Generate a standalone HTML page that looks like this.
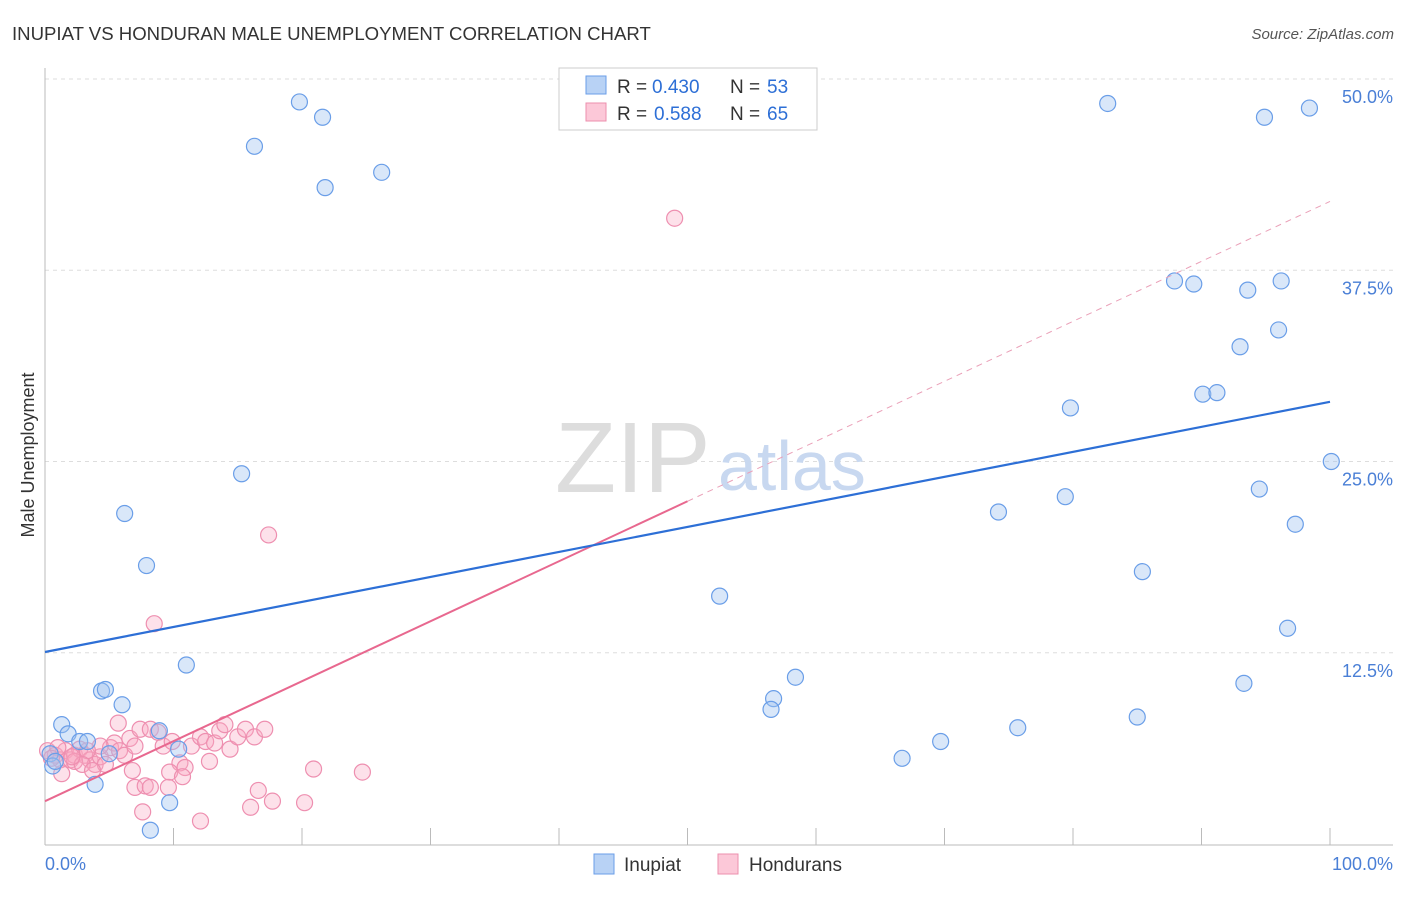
<!DOCTYPE html>
<html><head><meta charset="utf-8"><style>
body{margin:0;background:#fff;font-family:"Liberation Sans",sans-serif;}
svg text{font-family:"Liberation Sans",sans-serif;}
</style></head><body>
<svg width="1406" height="892">
<text x="12" y="40" font-size="18.6" fill="#333">INUPIAT VS HONDURAN MALE UNEMPLOYMENT CORRELATION CHART</text>
<text x="1394" y="39" font-size="15" fill="#555" text-anchor="end" font-style="italic">Source: ZipAtlas.com</text>
<g id="grid"></g>
<text x="555" y="492" font-size="100" fill="#ddd" font-family="Liberation Serif">ZIP</text>
<text x="718" y="490" font-size="70" fill="#c8d8f0">atlas</text>
<text x="34" y="455" font-size="18" fill="#333" transform="rotate(-90 34 455)" text-anchor="middle">Male Unemployment</text>
<g id="marks"></g>
<g>
<rect x="559" y="68" width="258" height="62" fill="#fff" stroke="#ccc"/>
<rect x="586" y="76" width="20" height="18" fill="#b8d2f5" stroke="#6a9ee8"/>
<rect x="586" y="103" width="20" height="18" fill="#fcc8d8" stroke="#ec8fae"/>
<text x="617" y="93" font-size="19" fill="#333">R =</text>
<text x="652" y="93" font-size="19" fill="#2d6fd6">0.430</text>
<text x="730" y="93" font-size="19" fill="#333">N =</text>
<text x="767" y="93" font-size="19" fill="#2d6fd6">53</text>
<text x="617" y="120" font-size="19" fill="#333">R =</text>
<text x="654" y="120" font-size="19" fill="#2d6fd6">0.588</text>
<text x="730" y="120" font-size="19" fill="#333">N =</text>
<text x="767" y="120" font-size="19" fill="#2d6fd6">65</text>
</g>
<g>
<rect x="594" y="854" width="20" height="20" fill="#b8d2f5" stroke="#6a9ee8"/>
<text x="624" y="871" font-size="19" fill="#333">Inupiat</text>
<rect x="718" y="854" width="20" height="20" fill="#fcc8d8" stroke="#ec8fae"/>
<text x="749" y="871" font-size="19" fill="#333">Hondurans</text>
</g>
<text x="45" y="870" font-size="18" fill="#4a7fd6">0.0%</text>
<text x="1393" y="870" font-size="18" fill="#4a7fd6" text-anchor="end">100.0%</text>
</svg>
<script>
const yTicks=[12.5,25,37.5,50];
const yTickLabels=["12.5%","25.0%","37.5%","50.0%"];
const xTicks=[0,10,20,30,40,50,60,70,80,90,100];
const inupiatX=[19.8,21.6,16.3,21.8,26.2,15.3,6.2,7.9,11,4.4,4.7,6,1.3,1.8,2.7,3.3,8.9,5,10.4,0.4,0.6,3.9,9.7,8.2,82.7,94.9,98.4,87.9,89.4,93.6,96.2,96,93,90.1,91.2,79.8,100.1,94.5,79.4,74.2,97.3,85.4,52.5,96.7,58.4,93.3,56.7,56.5,85,75.7,69.7,66.7,0.8];
const inupiatY=[48.5,47.5,45.6,42.9,43.9,24.2,21.6,18.2,11.7,10,10.1,9.1,7.8,7.2,6.7,6.7,7.4,5.9,6.2,5.9,5.1,3.9,2.7,0.9,48.4,47.5,48.1,36.8,36.6,36.2,36.8,33.6,32.5,29.4,29.5,28.5,25,23.2,22.7,21.7,20.9,17.8,16.2,14.1,10.9,10.5,9.5,8.8,8.3,7.6,6.7,5.6,5.4];
const hondX=[49,17.4,8.5,0.2,0.8,1.2,1.6,2,2.3,2.7,3.1,3.5,3.9,4.3,4.7,5.1,5.4,5.8,6.2,5.7,6.6,7,7.4,8.2,8.8,9.2,9.9,10.5,10.9,11.4,12.1,12.5,12.8,13.2,13.6,14,14.4,15,15.6,16.3,17.1,6.8,7,7.8,8.2,9.7,9.6,10.7,7.6,12.1,16,16.6,17.7,20.2,20.9,24.7,4.3,3.3,1,0.5,2.3,2.9,3.7,2.1,1.3];
const hondY=[40.9,20.2,14.4,6.1,5.8,5.5,6.1,5.5,5.8,6.2,5.8,5.5,5.2,5.7,5.2,6.3,6.6,6.1,5.8,7.9,6.9,6.4,7.5,7.5,7.3,6.4,6.7,5.3,5,6.4,7,6.7,5.4,6.6,7.4,7.8,6.2,7,7.5,7,7.5,4.8,3.7,3.8,3.7,4.7,3.7,4.4,2.1,1.5,2.4,3.5,2.8,2.7,4.9,4.7,6.4,6.1,6.3,5.6,5.4,5.2,4.8,5.7,4.6];
const blueFit=[12.55,28.9];
const pinkFit=[2.8,42];
const NS='http://www.w3.org/2000/svg';
const X=v=>45+v*12.85, Y=v=>844-v*15.3;
const grid=document.getElementById('grid'), marks=document.getElementById('marks');
function mk(p,tag,at){const e=document.createElementNS(NS,tag);for(const k in at)e.setAttribute(k,at[k]);p.appendChild(e);return e;}
yTicks.forEach((t,i)=>{
 const l=mk(grid,'line',{x1:45,x2:1393,y1:Y(t),y2:Y(t),stroke:'#ddd','stroke-dasharray':'4,4'});
 
 
 const tx=mk(grid,'text',{x:1393,y:Y(t)+24,'font-size':18,fill:'#4a7fd6','text-anchor':'end'});
 tx.textContent=yTickLabels[i];
 
 
});
const ax=mk(grid,'line',{x1:45,x2:1393,y1:845,y2:845,stroke:'#bbb'});


const ay=mk(grid,'line',{x1:45,x2:45,y1:68,y2:845,stroke:'#bbb'});


xTicks.forEach(t=>{
 const l=mk(grid,'line',{x1:X(t),x2:X(t),y1:828,y2:845,stroke:'#bbb'});
 
 
});
hondX.forEach((v,i)=>{
 const c=mk(marks,'circle',{cx:X(v),cy:Y(hondY[i]),r:8,fill:'rgba(248,170,195,0.35)',stroke:'#ee8fb0','stroke-width':1.2});
 
 
});
inupiatX.forEach((v,i)=>{
 const c=mk(marks,'circle',{cx:X(v),cy:Y(inupiatY[i]),r:8,fill:'rgba(160,195,240,0.4)',stroke:'#6a9ee8','stroke-width':1.2});
 
 
});
const pm=v=>pinkFit[0]+(pinkFit[1]-pinkFit[0])*v/100;
const pl=mk(marks,'line',{x1:X(0),y1:Y(pinkFit[0]),x2:X(50),y2:Y(pm(50)),stroke:'#e8688f','stroke-width':2});


const pd=mk(marks,'line',{x1:X(50),y1:Y(pm(50)),x2:X(100),y2:Y(pinkFit[1]),stroke:'#eaa0b8','stroke-width':1,'stroke-dasharray':'6,5'});


const bl=mk(marks,'line',{x1:X(0),y1:Y(blueFit[0]),x2:X(100),y2:Y(blueFit[1]),stroke:'#2d6fd6','stroke-width':2.2});


</script>
</body></html>
